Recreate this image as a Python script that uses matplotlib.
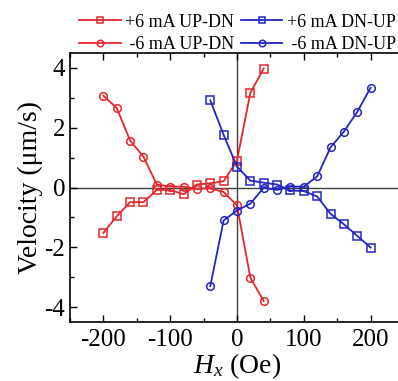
import matplotlib.pyplot as plt
import numpy as np

plt.rcParams['font.family'] = 'Liberation Serif'
plt.rcParams['mathtext.fontset'] = 'custom'
plt.rcParams['mathtext.it'] = 'Liberation Serif:italic'
plt.rcParams['mathtext.rm'] = 'Liberation Serif'
plt.rcParams['axes.unicode_minus'] = False

# field values (Oe)
h_up_dn = [-200, -180, -160, -140, -120, -100, -80, -60, -40, -20, 0, 20, 40]
h_dn_up = [-40, -20, 0, 20, 40, 60, 80, 100, 120, 140, 160, 180, 200]

# velocities (um/s)
v_p6_up_dn = [-1.52, -0.96, -0.49, -0.49, -0.08, -0.08, -0.23, 0.10, 0.14, 0.21, 0.90, 3.17, 3.98]
v_m6_up_dn = [3.07, 2.66, 1.57, 1.03, 0.10, 0.03, 0.03, -0.04, -0.03, -0.15, -0.60, -3.02, -3.80]
v_p6_dn_up = [2.92, 1.76, 0.70, 0.23, 0.16, 0.10, -0.10, -0.12, -0.30, -0.88, -1.23, -1.62, -2.01]
v_m6_dn_up = [-3.30, -1.10, -0.77, -0.54, -0.01, -0.08, 0.03, 0.03, 0.37, 1.34, 1.87, 2.53, 3.34]

red = '#e5262b'
blue = '#2424c4'

fig = plt.figure(figsize=(3.98, 3.81), dpi=100)
ax = fig.add_axes([70 / 398, 59 / 381, 334 / 398, 269 / 381])

ax.axhline(0, color='#404040', lw=1.0, zorder=1)
ax.axvline(0, color='#404040', lw=1.0, zorder=1)

mk = dict(markersize=5.5, markerfacecolor='none', markeredgewidth=1.1, lw=1.3)
l1, = ax.plot(h_up_dn, v_p6_up_dn, marker='s', color=red, label='+6 mA UP-DN', **mk)
l2, = ax.plot(h_up_dn, v_m6_up_dn, marker='o', color=red, label=' -6 mA UP-DN', **mk)
l3, = ax.plot(h_dn_up, v_p6_dn_up, marker='s', color=blue, label='+6 mA DN-UP', **mk)
l4, = ax.plot(h_dn_up, v_m6_dn_up, marker='o', color=blue, label=' -6 mA DN-UP', **mk)

ax.set_xlim(-250, 250)
ax.set_ylim(-4.5, 4.5)
ax.set_xticks([-200, -100, 0, 100, 200])
ax.set_xticks([-250, -150, -50, 50, 150, 250], minor=True)
ax.set_yticks([-4, -2, 0, 2, 4])
ax.set_yticks([-3, -1, 1, 3], minor=True)
ax.tick_params(which='both', direction='in', top=True, labelsize=18, width=1)
ax.tick_params(which='major', length=5)
ax.tick_params(which='minor', length=3)
ax.tick_params(axis='x', pad=5)
for s in ax.spines.values():
    s.set_linewidth(1.2)

ax.set_xlabel('$H_x$ (Oe)', fontsize=20, labelpad=0)
ax.set_ylabel('Velocity (μm/s)', fontsize=20, labelpad=1)

leg = fig.legend([l1, l2, l3, l4], [l1.get_label(), l2.get_label(), l3.get_label(), l4.get_label()],
                 ncol=2, loc='upper center', bbox_to_anchor=(0.597, 1.0), frameon=False,
                 fontsize=13, handlelength=2.3, handletextpad=0.25, columnspacing=0.35,
                 labelspacing=0.3, borderpad=0.25, markerscale=0.85)

fig.savefig('out.png', dpi=100)
